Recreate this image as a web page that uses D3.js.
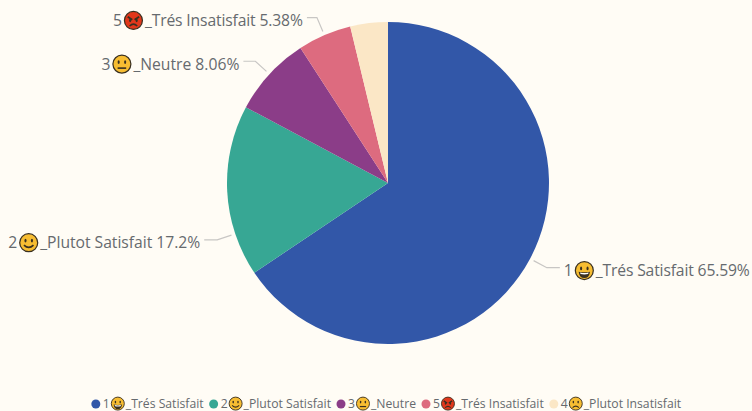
<!DOCTYPE html>
<html>
<head>
<meta charset="utf-8">
<script src="https://cdn.jsdelivr.net/npm/d3@7"></script>
<style>
  html, body { margin: 0; padding: 0; background: #fffcf5; overflow: hidden; }
  text { font-family: "Open Sans", "Noto Sans", sans-serif; fill: #666a6e; }
</style>
</head>
<body>
<div class="svg_area"></div>
<script>
// Chart data, in slice order (clockwise from 12 o'clock)
var digits = ["1", "2", "3", "5", "4"];
var names = ["_Trés Satisfait", "_Plutot Satisfait", "_Neutre", "_Trés Insatisfait", "_Plutot Insatisfait"];
var faces = ["grin", "smile", "neutral", "angry", "frown"];
var shares = [65.59, 17.2, 8.06, 5.38, 3.77];
var shareLabels = ["65.59%", "17.2%", "8.06%", "5.38%", null];
var colors = ["#3257a8", "#37a794", "#8b3d88", "#dd6b7f", "#fbe7c6"];

var svgWidth = 752;
var svgHeight = 411;
var centerX = 388;
var centerY = 183;
var radius = 161;

var svg = d3.select(".svg_area")
  .append("svg")
  .attr("width", svgWidth)
  .attr("height", svgHeight)
  .style("display", "block");

var slices = d3.pie().sort(null)(shares);
var arc = d3.arc().innerRadius(0).outerRadius(radius);

var pieGroup = svg.append("g")
  .attr("transform", `translate(${centerX}, ${centerY})`);

pieGroup.selectAll("path")
  .data(slices)
  .enter()
  .append("path")
  .attr("d", arc)
  .attr("fill", (d, i) => colors[i]);

// Draw one emoji as little svg shapes, no colour emoji font here
function drawFace(g, kind, r) {
  var yellow = kind == "angry" ? "#e2371b" : "#f7bd32";
  var ink = "#3a3020";
  g.append("circle").attr("r", r - 0.5).attr("fill", yellow).attr("stroke", ink).attr("stroke-width", r * 0.13);

  var eyeY = -r * 0.22;
  if (kind == "angry") {
    g.append("path")
      .attr("d", `M${-r * 0.6},${-r * 0.4} L${-r * 0.12},${-r * 0.08} M${r * 0.6},${-r * 0.4} L${r * 0.12},${-r * 0.08}`)
      .attr("stroke", ink).attr("stroke-width", r * 0.2).attr("fill", "none");
    eyeY = -r * 0.02;
  }
  [-1, 1].forEach(function(side) {
    g.append("ellipse")
      .attr("cx", side * r * 0.34).attr("cy", eyeY)
      .attr("rx", r * 0.11).attr("ry", r * 0.2)
      .attr("fill", ink);
  });

  if (kind == "grin") {
    g.append("path")
      .attr("d", `M${-r * 0.6},${r * 0.12} Q0,${r * 0.26} ${r * 0.6},${r * 0.12} Q${r * 0.5},${r * 0.8} 0,${r * 0.8} Q${-r * 0.5},${r * 0.8} ${-r * 0.6},${r * 0.12} Z`)
      .attr("fill", ink);
    g.append("path")
      .attr("d", `M${-r * 0.45},${r * 0.2} Q0,${r * 0.32} ${r * 0.45},${r * 0.2} L${r * 0.4},${r * 0.36} Q0,${r * 0.46} ${-r * 0.4},${r * 0.36} Z`)
      .attr("fill", "#ffffff");
  } else {
    var mouth = {
      smile: `M${-r * 0.5},${r * 0.25} Q0,${r * 0.75} ${r * 0.5},${r * 0.25}`,
      neutral: `M${-r * 0.45},${r * 0.42} L${r * 0.45},${r * 0.42}`,
      angry: `M${-r * 0.4},${r * 0.58} Q0,${r * 0.2} ${r * 0.4},${r * 0.58}`,
      frown: `M${-r * 0.45},${r * 0.58} Q0,${r * 0.12} ${r * 0.45},${r * 0.58}`
    };
    g.append("path")
      .attr("d", mouth[kind])
      .attr("fill", "none").attr("stroke", ink).attr("stroke-width", r * 0.17);
  }
}

// digit + emoji + rest of the text, returns the full width
function drawEntry(g, i, rest, fontSize, faceR, gap, fitWidth) {
  var digit = g.append("text").attr("font-size", fontSize).attr("y", 0).text(digits[i]);
  var x = digit.node().getComputedTextLength() + gap;
  var face = g.append("g").attr("transform", `translate(${x + faceR}, ${-fontSize * 0.36})`);
  drawFace(face, faces[i], faceR);
  x += faceR * 2 + gap;
  var tail = g.append("text").attr("font-size", fontSize).attr("x", x).text(rest);
  if (fitWidth) tail.attr("textLength", fitWidth);
  return x + (fitWidth || tail.node().getComputedTextLength());
}

// Data labels with leader lines. The second slice's label was moved in the
// reference so its leader does not start at the slice's middle angle.
var labelFont = 15.7;
var labelOffsets = [0, -15.5 * Math.PI / 180, 0, 0, 0];
var elbowRadius = 180;
var tailLength = [13, 13, 12, 10, 0];
var labelFit = [154, 160, 106, 158, 0];

slices.forEach(function(d, i) {
  if (shareLabels[i] == null) return;
  var angle = (d.startAngle + d.endAngle) / 2 + labelOffsets[i];
  var start = [Math.sin(angle) * (radius + 4), -Math.cos(angle) * (radius + 4)];
  var elbow = [Math.sin(angle) * elbowRadius, -Math.cos(angle) * elbowRadius];
  var side = Math.sin(angle) > 0 ? 1 : -1;
  var end = [elbow[0] + side * tailLength[i], elbow[1]];

  pieGroup.append("polyline")
    .attr("points", [start, elbow, end].map(p => p.join(",")).join(" "))
    .attr("fill", "none")
    .attr("stroke", "#c8c6c4")
    .attr("stroke-width", 1.2);

  var label = pieGroup.append("g");
  var width = drawEntry(label, i, names[i] + " " + shareLabels[i], labelFont, 9.5, 2, labelFit[i]);
  var labelX = side > 0 ? end[0] + 4 : end[0] - 4 - width;
  label.attr("transform", `translate(${labelX}, ${end[1] + 8.5})`);
});

// Legend along the bottom, centred under the pie
var legendGroup = svg.append("g");
var legendX = 0;
digits.forEach(function(digit, i) {
  var item = legendGroup.append("g").attr("transform", `translate(${legendX}, 0)`);
  item.append("circle").attr("cx", 5).attr("cy", -4).attr("r", 4.5).attr("fill", colors[i]);
  var g = item.append("g").attr("transform", "translate(12, 0)");
  var width = drawEntry(g, i, names[i], 12.2, 7, 1);
  legendX += 12 + width + 5;
});
legendGroup.attr("transform", `translate(${386 - (legendX - 5) / 2}, 408)`);
</script>
</body>
</html>
